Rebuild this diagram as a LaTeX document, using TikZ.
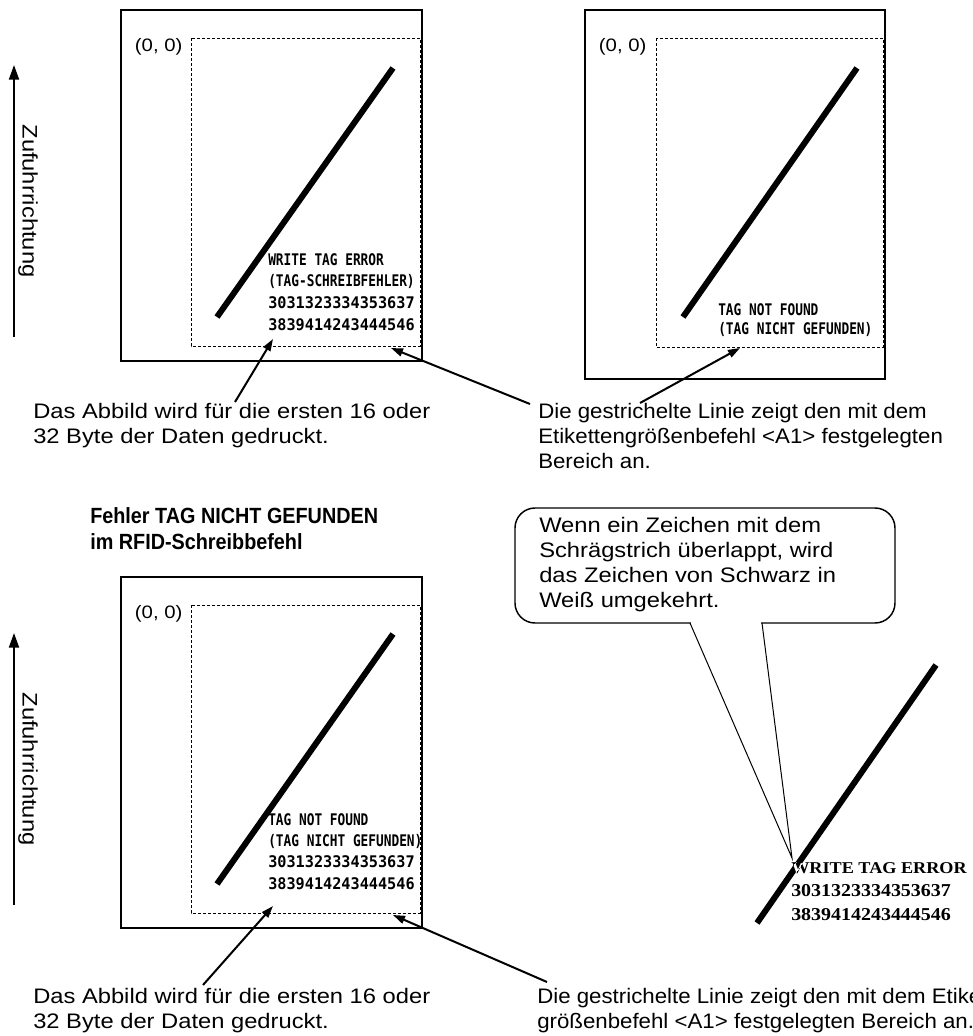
\documentclass[tikz,border=0pt]{standalone}
\usepackage{fontspec}
\setmainfont{Liberation Sans}[FakeStretch=1.13]
\newfontfamily\headfont{Liberation Sans}[FakeStretch=0.9]
\newfontfamily\narrowfont{Liberation Sans}[FakeStretch=1.06]
\newfontfamily\tagfont{DejaVu Sans Mono}[FakeStretch=0.8]
\newfontfamily\tagnum{DejaVu Sans Mono}[FakeStretch=0.95]
\newfontfamily\printfont{Liberation Serif}[FakeStretch=1.1]
\usetikzlibrary{arrows.meta}

\tikzset{
  paper/.style={line width=1.5pt},
  area/.style={line width=0.75pt, dash pattern=on 2.25pt off 1.5pt},
  slash/.style={line width=4.5pt},
  note/.style={font=\fontsize{15.75}{18}\selectfont, anchor=base west, inner sep=0pt},
  rnote/.style={note, font=\fontsize{15.75}{18}\selectfont\narrowfont},
  origin/.style={font=\fontsize{13.5}{15}\selectfont, anchor=east, inner sep=1pt},
  heading/.style={font=\fontsize{16.5}{18}\selectfont\headfont\bfseries, anchor=base west, inner sep=0pt},
  tagtxt/.style={font=\fontsize{12}{13}\selectfont\tagfont\bfseries, anchor=base west, inner sep=0pt},
  tagnr/.style={font=\fontsize{12}{13}\selectfont\tagnum\bfseries, anchor=base west, inner sep=0pt},
  printtxt/.style={font=\fontsize{12.4}{14}\selectfont\printfont\bfseries, anchor=base west, inner sep=0pt},
  printnr/.style={font=\fontsize{13.6}{15}\selectfont\printfont\bfseries, anchor=base west, inner sep=0pt},
  pointer/.style={line width=1.5pt, -{Triangle[length=9pt,width=6pt]}},
  feed/.style={line width=1.5pt, -{Triangle[length=11pt,width=7.5pt]}},
}

\begin{document}
\begin{tikzpicture}[x=0.75pt, y=-0.75pt]
  \clip (0,0) rectangle (973,1036);

  % feed direction, top and bottom
  \coordinate (feedA0) at (14,337);
  \coordinate (feedA1) at (14,65);
  \coordinate (feedC0) at (14,905);
  \coordinate (feedC1) at (14,633);
  \draw[feed] (feedA0) -- (feedA1);
  \draw[feed] (feedC0) -- (feedC1);
  \node[font=\fontsize{15.75}{18}\selectfont, rotate=-90] (feedtxtA) at (28,201) {Zufuhrrichtung};
  \node[font=\fontsize{15.75}{18}\selectfont, rotate=-90] (feedtxtC) at (28,769) {Zufuhrrichtung};

  % label A: WRITE TAG ERROR
  \coordinate (A-nw) at (121,10);
  \coordinate (A-se) at (422,361);
  \coordinate (A-dnw) at (191,38);
  \coordinate (A-dse) at (420,346);
  \coordinate (A-s1) at (217,317);
  \coordinate (A-s2) at (393,68);
  \draw[paper] (A-nw) rectangle (A-se);
  \draw[area] (A-dnw) rectangle (A-dse);
  \draw[slash] (A-s1) -- (A-s2);
  \node[origin] (A-zero) at (184,47) {(0, 0)};
  \node[tagtxt] (A-t1) at (268,265) {WRITE TAG ERROR};
  \node[tagtxt] (A-t2) at (268,286) {(TAG-SCHREIBFEHLER)};
  \node[tagnr] (A-t3) at (268,308) {3031323334353637};
  \node[tagnr] (A-t4) at (268,330) {3839414243444546};

  % label B: TAG NOT FOUND
  \coordinate (B-nw) at (585,10);
  \coordinate (B-se) at (885,379);
  \coordinate (B-dnw) at (656,38);
  \coordinate (B-dse) at (883,347);
  \coordinate (B-s1) at (683,317);
  \coordinate (B-s2) at (857,68);
  \draw[paper] (B-nw) rectangle (B-se);
  \draw[area] (B-dnw) rectangle (B-dse);
  \draw[slash] (B-s1) -- (B-s2);
  \node[origin] (B-zero) at (648,47) {(0, 0)};
  \node[tagtxt] (B-t1) at (718,315) {TAG NOT FOUND};
  \node[tagtxt] (B-t2) at (718,334) {(TAG NICHT GEFUNDEN)};

  % notes under the top labels
  \node[note] (noteA1) at (33,418) {Das Abbild wird für die ersten 16 oder};
  \node[note] (noteA2) at (33,443) {32 Byte der Daten gedruckt.};
  \node[rnote] (noteB1) at (538,418) {Die gestrichelte Linie zeigt den mit dem};
  \node[rnote] (noteB2) at (538,443) {Etikettengrößenbefehl <A1> festgelegten};
  \node[rnote] (noteB3) at (538,468) {Bereich an.};
  \coordinate (A-tip1) at (273,339);
  \coordinate (A-tail1) at (235,402);
  \coordinate (A-tip2) at (391,348);
  \coordinate (A-tail2) at (530,404);
  \coordinate (B-tip1) at (740,348);
  \coordinate (B-tail1) at (640,403);
  \draw[pointer] (A-tail1) -- (A-tip1);
  \draw[pointer] (A-tail2) -- (A-tip2);
  \draw[pointer] (B-tail1) -- (B-tip1);

  % heading
  \node[heading] (head1) at (90,523) {Fehler TAG NICHT GEFUNDEN};
  \node[heading] (head2) at (90,549) {im RFID-Schreibbefehl};

  % label C: TAG NOT FOUND with data
  \coordinate (C-nw) at (121,577);
  \coordinate (C-se) at (422,928);
  \coordinate (C-dnw) at (191,605);
  \coordinate (C-dse) at (420,913);
  \coordinate (C-s1) at (217,884);
  \coordinate (C-s2) at (393,634);
  \draw[paper] (C-nw) rectangle (C-se);
  \draw[area] (C-dnw) rectangle (C-dse);
  \draw[slash] (C-s1) -- (C-s2);
  \node[origin] (C-zero) at (184,614) {(0, 0)};
  \node[tagtxt] (C-t1) at (268,825) {TAG NOT FOUND};
  \node[tagtxt] (C-t2) at (268,846) {(TAG NICHT GEFUNDEN)};
  \node[tagnr] (C-t3) at (268,867) {3031323334353637};
  \node[tagnr] (C-t4) at (268,889) {3839414243444546};

  % callout
  \coordinate (bub-nw) at (515,508);
  \coordinate (bub-se) at (895,623);
  \coordinate (bub-l) at (690,623);
  \coordinate (bub-r) at (762,623);
  \coordinate (bub-tip) at (792,858);
  \draw[line width=1.1pt, rounded corners=15pt] (bub-nw) rectangle (bub-se);
  \fill[white] (691,620) rectangle (761,626);
  \draw[line width=0.75pt] (bub-l) -- (bub-tip) -- (bub-r);
  \node[note] (bub1) at (539,532) {Wenn ein Zeichen mit dem};
  \node[note] (bub2) at (539,557) {Schrägstrich überlappt, wird};
  \node[note] (bub3) at (539,582) {das Zeichen von Schwarz in};
  \node[note] (bub4) at (539,607) {Weiß umgekehrt.};

  % printed sample, enlarged
  \coordinate (F-s1) at (757,923);
  \coordinate (F-s2) at (936,665);
  \node[printtxt] (F-t1) at (791,873) {WRITE TAG ERROR};
  \node[printnr] (F-t2) at (791,896) {3031323334353637};
  \node[printnr] (F-t3) at (791,920) {3839414243444546};
  \draw[line width=4.5pt] (F-s1) -- (F-s2);
  \begin{scope}
    \clip (759.5,924.7) -- (938.5,666.7) -- (933.5,663.3) -- (754.5,921.3) -- cycle;
    \node[printtxt, white] at (791,873) {WRITE TAG ERROR};
  \end{scope}

  % notes under label C
  \node[note] (noteC1) at (33,1003) {Das Abbild wird für die ersten 16 oder};
  \node[note] (noteC2) at (33,1028) {32 Byte der Daten gedruckt.};
  \node[rnote] (noteD1) at (537,1003) {Die gestrichelte Linie zeigt den mit dem Etiketten-};
  \node[rnote] (noteD2) at (537,1028) {größenbefehl <A1> festgelegten Bereich an.};
  \coordinate (C-tip1) at (273,906);
  \coordinate (C-tail1) at (203,985);
  \coordinate (C-tip2) at (393,915);
  \coordinate (C-tail2) at (547,982);
  \draw[pointer] (C-tail1) -- (C-tip1);
  \draw[pointer] (C-tail2) -- (C-tip2);
\end{tikzpicture}
\end{document}
